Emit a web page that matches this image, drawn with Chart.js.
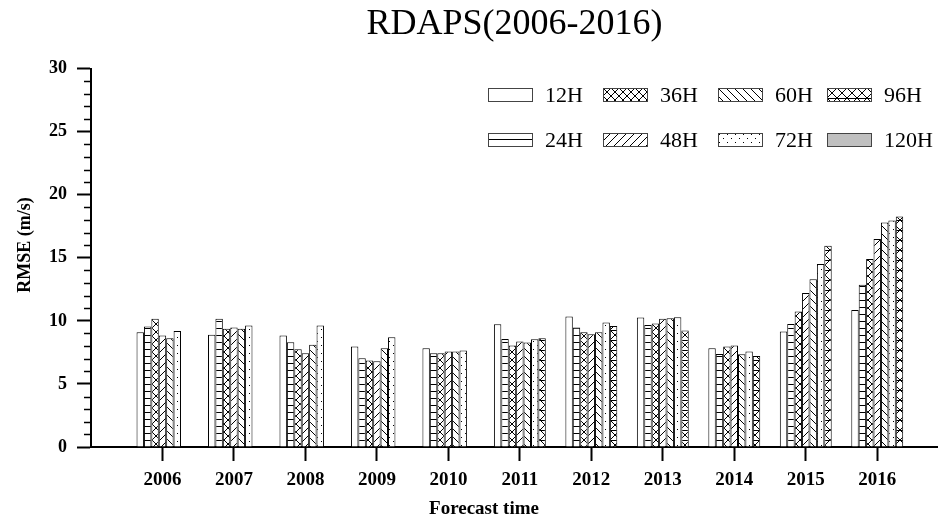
<!DOCTYPE html>
<html>
<head>
<meta charset="utf-8">
<script src="https://cdn.jsdelivr.net/npm/chart.js@4.4.1/dist/chart.umd.min.js"></script>
<style>
  html, body { margin: 0; padding: 0; background: #fff; }
  #wrap { position: relative; width: 938px; height: 523px; }
  #legend {
    position: absolute; left: 488px; top: 72px;
    display: grid; grid-template-columns: 115px 115px 109px auto;
    grid-template-rows: 45px 45px; grid-auto-flow: column;
    font-family: "Liberation Serif", serif; font-size: 22px; color: #000;
  }
  #legend .item { display: flex; align-items: center; }
  #legend canvas { margin-right: 12px; }
</style>
</head>
<body>
<div id="wrap">
  <canvas id="rmseChart"></canvas>
  <div id="legend"></div>
</div>
<script>
// values
const years = [2006, 2007, 2008, 2009, 2010, 2011, 2012, 2013, 2014, 2015, 2016];
const seriesLabels = ['12H', '24H', '36H', '48H', '60H', '72H', '96H', '120H'];
const h12 = [9.1, 8.89, 8.83, 7.96, 7.83, 9.74, 10.34, 10.27, 7.83, 9.15, 10.87];
const h24 = [9.55, 10.16, 8.3, 7.04, 7.43, 8.57, 9.47, 9.68, 7.38, 9.76, 12.86];
const h36 = [10.16, 9.37, 7.75, 6.85, 7.43, 8.04, 9.1, 9.8, 7.96, 10.74, 14.9];
const h48 = [8.83, 9.47, 7.43, 6.8, 7.57, 8.36, 8.94, 10.16, 8.04, 12.2, 16.5];
const h60 = [8.62, 9.37, 8.1, 7.83, 7.57, 8.28, 9.1, 10.2, 7.36, 13.3, 17.8];
const h72 = [9.2, 9.63, 9.63, 8.7, 7.65, 8.55, 9.87, 10.29, 7.57, 14.5, 17.96];
const h96 = [null, null, null, null, null, 8.62, 9.6, 9.23, 7.22, 15.95, 18.28];
const h120 = [null, null, null, null, null, null, null, null, null, null, null];
const seriesValues = [h12, h24, h36, h48, h60, h72, h96, h120];
const yTickStep = 5;

const seriesStyles = ['blank', 'hlines', 'xhatch', 'fwd', 'back', 'dots', 'xhatchH', 'gray'];
const FONT = '"Liberation Serif", "Times New Roman", serif';

function makeTile(style) {
  const n = style === 'xhatchH' ? 10 : (style === 'hlines' ? 7 : 8);
  const c = document.createElement('canvas');
  c.width = c.height = n;
  const g = c.getContext('2d');
  g.fillStyle = '#fff';
  g.fillRect(0, 0, n, n);
  g.strokeStyle = '#000';
  g.fillStyle = '#000';
  g.lineWidth = 1;
  const line = (x1, y1, x2, y2) => { g.beginPath(); g.moveTo(x1, y1); g.lineTo(x2, y2); g.stroke(); };
  const fwd = () => { line(-1, n + 1, n + 1, -1); line(-1, 1, 1, -1); line(n - 1, n + 1, n + 1, n - 1); };
  const back = () => { line(-1, -1, n + 1, n + 1); line(n - 1, -1, n + 1, 1); line(-1, n - 1, 1, n + 1); };
  if (style === 'hlines') line(0, n - 0.5, n, n - 0.5);
  if (style === 'fwd') fwd();
  if (style === 'back') back();
  if (style === 'xhatch') { fwd(); back(); }
  if (style === 'xhatchH') { fwd(); back(); line(0, 0.5, n, 0.5); }
  if (style === 'dots') { g.fillRect(1, 1, 1, 1); g.fillRect(5, 5, 1, 1); }
  return c;
}

function fillFor(g, style) {
  if (style === 'blank') return '#fff';
  if (style === 'gray') return '#c0c0c0';
  return g.createPattern(makeTile(style), 'repeat');
}

// minor y ticks + axis titles
const axisDecor = {
  id: 'axisDecor',
  afterDraw(chart) {
    const { ctx, chartArea, scales: { y } } = chart;
    ctx.save();
    ctx.strokeStyle = '#000';
    ctx.lineWidth = 1.5;
    for (let v = y.min; v <= y.max; v += 1) {
      if (v % yTickStep === 0) continue;
      const py = Math.round(y.getPixelForValue(v)) + 0.5;
      ctx.beginPath();
      ctx.moveTo(chartArea.left - 7, py);
      ctx.lineTo(chartArea.left, py);
      ctx.stroke();
    }
    ctx.fillStyle = '#000';
    ctx.textAlign = 'center';
    ctx.textBaseline = 'middle';
    ctx.font = 'bold 19px ' + FONT;
    ctx.fillText('Forecast time', 484, 509);
    ctx.translate(25, 245);
    ctx.rotate(-Math.PI / 2);
    ctx.font = 'bold 18px ' + FONT;
    ctx.fillText('RMSE (m/s)', 0, 0);
    ctx.restore();
  }
};

const ctx = document.getElementById('rmseChart').getContext('2d');

const datasets = seriesLabels.map((lab, i) => ({
  label: lab,
  data: seriesValues[i],
  backgroundColor: fillFor(ctx, seriesStyles[i]),
  borderColor: '#000',
  borderWidth: 1,
  grouped: seriesValues[i].some(v => v != null)
}));

new Chart(ctx, {
  type: 'bar',
  data: { labels: years, datasets: datasets },
  options: {
    responsive: true,
    maintainAspectRatio: false,
    animation: false,
    layout: { padding: 0 },
    datasets: { bar: { categoryPercentage: 0.726, barPercentage: 1 } },
    plugins: {
      legend: { display: false },
      tooltip: { enabled: false },
      title: {
        display: true,
        text: 'RDAPS(2006-2016)',
        fullSize: false,
        color: '#000',
        font: { family: FONT, size: 36, weight: 'normal', lineHeight: 1.1 },
        padding: { top: 5, bottom: 24 }
      }
    },
    scales: {
      x: {
        type: 'linear',
        min: 2005,
        max: 2016.85,
        offset: false,
        afterBuildTicks: s => { s.ticks = years.map(v => ({ value: v })); },
        afterFit: s => { s.height = 76; },
        ticks: {
          callback: v => String(v),
          autoSkip: false, maxRotation: 0,
          color: '#000', padding: 8,
          font: { family: FONT, size: 19, weight: 'bold' }
        },
        grid: { drawOnChartArea: false, offset: false, tickLength: 14, tickWidth: 2, tickColor: '#000' },
        border: { color: '#000', width: 2 }
      },
      y: {
        min: 0,
        max: 30,
        afterFit: s => { s.width = 91; },
        ticks: {
          stepSize: yTickStep,
          color: '#000', padding: 10,
          font: { family: FONT, size: 18, weight: 'bold' }
        },
        grid: { drawOnChartArea: false, tickLength: 14, tickWidth: 2, tickColor: '#000' },
        border: { color: '#000', width: 2 }
      }
    }
  },
  plugins: [axisDecor]
});

// legend, two rows filled column by column
const legendEl = document.getElementById('legend');
seriesLabels.forEach((lab, i) => {
  const item = document.createElement('div');
  item.className = 'item';
  const sw = document.createElement('canvas');
  sw.width = 45;
  sw.height = 14;
  const g = sw.getContext('2d');
  g.fillStyle = fillFor(g, seriesStyles[i]);
  g.fillRect(0, 0, 45, 14);
  g.strokeStyle = '#444';
  g.lineWidth = 1;
  g.strokeRect(0.5, 0.5, 44, 13);
  const t = document.createElement('span');
  t.textContent = lab;
  item.append(sw, t);
  legendEl.append(item);
});
</script>
</body>
</html>
